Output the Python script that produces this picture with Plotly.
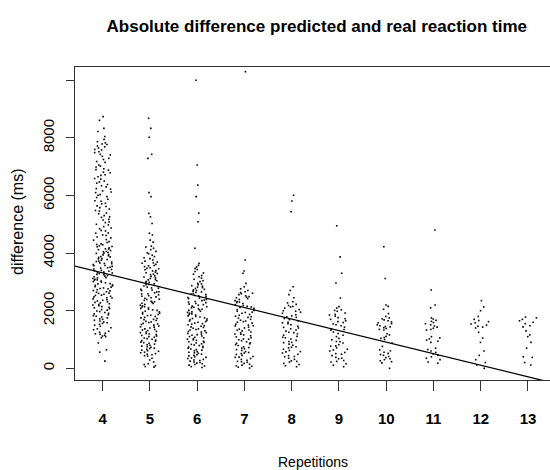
import plotly.graph_objects as go

title_text = "Absolute difference predicted and real reaction time"
x_label = "Repetitions"
y_label = "difference (ms)"

repetitions = [4, 5, 6, 7, 8, 9, 10, 11, 12, 13]
y_tick_vals = [0, 2000, 4000, 6000, 8000, 10000]
y_tick_text = ["0", "2000", "4000", "6000", "8000", ""]

# regression line (ms = intercept + slope * repetitions)
reg_intercept = 4922
reg_slope = -401.4

g4 = [8740, 8610, 8330, 8220, 8050,
      7950, 7870, 7830, 7790, 7770, 7720, 7690, 7650, 7600, 7580, 7520, 7490, 7430, 7410,
      7360, 7290, 7250, 7180, 7150, 7060, 7020, 6990, 6930, 6900, 6880, 6810, 6790, 6720, 6700,
      6650, 6590, 6570, 6500, 6470, 6430, 6380, 6340, 6300, 6240, 6220, 6160, 6120, 6100, 6030, 6010,
      5960, 5930, 5870, 5820, 5800, 5730, 5710, 5640, 5620, 5580, 5530, 5480, 5460, 5390, 5370,
      5300, 5260, 5240, 5170, 5150, 5080, 5060, 5000, 4980, 4920, 4870, 4850, 4790, 4770, 4700,
      4690, 4630, 4610, 4560, 4530, 4470, 4450, 4400, 4370, 4320,
      4300, 4290, 4250, 4230, 4220, 4180, 4150, 4140, 4120, 4090, 4060, 4050, 4020, 4000, 3990,
      3950, 3940, 3910, 3880, 3870, 3850, 3810, 3800, 3780, 3750, 3720, 3710, 3690, 3660, 3640,
      3630, 3600, 3570, 3560, 3540, 3510, 3490, 3480, 3450, 3430, 3400, 3390, 3370, 3340, 3320,
      3310, 3290, 3260, 3250, 3220, 3200, 3180, 3150, 3140, 3120, 3090, 3070, 3060, 3030, 3010,
      2990, 2970, 2940, 2930, 2900, 2880, 2860, 2830, 2820, 2790, 2770, 2760, 2730, 2700, 2690,
      2660, 2640, 2610, 2600, 2570, 2540, 2530, 2500, 2480, 2450, 2440, 2410, 2380, 2360, 2340,
      2310, 2290, 2270, 2240, 2210, 2200, 2170, 2140, 2120, 2100, 2070, 2040, 2020, 1990, 1970,
      1940, 1910, 1890, 1860, 1830, 1810, 1780, 1750, 1720, 1700, 1670, 1640, 1610, 1580, 1560,
      1530, 1500, 1460, 1410, 1370, 1340, 1290, 1250, 1220, 1200, 1180, 1150, 1120, 1100, 1060,
      880, 640, 560, 250]

g5 = [8680, 8330, 8020, 7430, 7290, 6100, 5960, 5380, 5260, 5030, 4690, 4630, 4450, 4380, 4240,
      4210, 4170, 4120, 4060, 4010, 3980, 3930, 3880, 3840, 3810, 3760, 3720,
      3690, 3660, 3650, 3610, 3570, 3560, 3530, 3490, 3470, 3460, 3420, 3390, 3380, 3340, 3320,
      3290, 3270, 3250, 3210, 3190, 3170, 3140, 3120, 3080, 3070, 3040, 3010, 2990, 2970, 2930,
      2910, 2900, 2860, 2840, 2820, 2790, 2780, 2740, 2720, 2700, 2660, 2650, 2620, 2590, 2580,
      2550, 2520, 2500, 2480, 2450, 2430, 2400, 2390, 2360, 2330, 2310, 2290, 2260, 2250, 2220,
      2190, 2170, 2140, 2130, 2100, 2080, 2050, 2030, 2010, 1980, 1960, 1940, 1910, 1890, 1870,
      1840, 1830, 1800, 1770, 1750, 1730, 1700, 1690, 1660, 1630, 1610, 1590, 1560, 1540, 1520,
      1500, 1470, 1440, 1430, 1400, 1370, 1350, 1330, 1310, 1280, 1260, 1240, 1210, 1190, 1170,
      1140, 1120, 1100, 1080, 1050, 1030, 1010, 980, 960, 940, 910, 890, 870, 840, 820,
      800, 770, 750, 730, 700, 690, 660, 630, 610, 590, 560, 540, 510, 490, 470, 440, 420,
      350, 290, 220, 160, 130, 90, 60, 40]

g6 = [10000, 7060, 6360, 5960, 5390, 5090, 4170, 3650,
      3580, 3520, 3470, 3430, 3360, 3310, 3270, 3220, 3180, 3130, 3090, 3040, 3010,
      2950, 2930, 2900, 2870, 2850, 2820, 2800, 2770, 2740, 2720, 2700, 2680, 2650, 2630, 2600,
      2580, 2560, 2530, 2510, 2490, 2460, 2440, 2420, 2390, 2370, 2350, 2320, 2300, 2280, 2250,
      2230, 2210, 2190, 2160, 2140, 2120, 2100, 2070, 2050, 2030, 2010, 1980, 1960, 1940, 1910,
      1890, 1870, 1850, 1820, 1800, 1780, 1750, 1730, 1710, 1690, 1660, 1640, 1620, 1600, 1570,
      1550, 1530, 1510, 1480, 1460, 1440, 1420, 1390, 1370, 1350, 1330, 1300, 1280, 1260, 1240,
      1210, 1190, 1170, 1150, 1120, 1100, 1080, 1060, 1030, 1010, 990, 970, 940, 920, 900,
      880, 850, 830, 810, 790, 760, 740, 720, 700, 670, 650, 630, 610, 580, 560, 540, 520,
      490, 470, 450, 430, 400, 380, 360, 340, 310, 290, 270, 250, 220, 200, 180, 160, 130,
      110, 80, 60, 30]

g7 = [10300, 3760, 3380, 3300, 2950, 2830, 2760,
      2700, 2660, 2630, 2590, 2560, 2520, 2490, 2450, 2420, 2390, 2350, 2320, 2280, 2250, 2210,
      2180, 2150, 2110, 2080, 2040, 2010, 1980, 1940, 1910, 1870, 1840, 1810, 1770, 1740, 1700,
      1670, 1640, 1600, 1570, 1530, 1500, 1470, 1430, 1400, 1360, 1330, 1300, 1260, 1230, 1190,
      1160, 1130, 1090, 1060, 1020, 990, 960, 920, 890, 850, 820, 790, 750, 720, 680, 650, 620,
      580, 550, 510, 480, 450, 410, 380, 340, 310, 280, 240, 210, 170, 140, 110, 70, 40, 10,
      2610, 2470, 2300, 2130, 1950, 1790, 1620, 1480, 1320, 1180, 1010, 870, 700, 530, 390, 230, 90]

g8 = [6010, 5810, 5440, 2830, 2700, 2560, 2450,
      2310, 2270, 2220, 2180, 2130, 2090, 2040, 2000, 1950, 1910, 1860, 1820, 1770, 1730, 1690,
      1640, 1600, 1550, 1510, 1460, 1420, 1370, 1330, 1290, 1240, 1200, 1150, 1110, 1060, 1020,
      970, 930, 890, 840, 800, 750, 710, 660, 620, 570, 530, 490, 440, 400, 350, 310, 260, 220,
      170, 130, 90, 55, 2150, 1980, 1790, 1580, 1400, 1250, 1080, 900, 730, 580, 410, 240]

g9 = [4950, 3870, 3300, 2960, 2440,
      2140, 2090, 2030, 1980, 1920, 1870, 1810, 1760, 1700, 1650, 1590, 1540, 1480, 1430, 1370,
      1320, 1260, 1210, 1150, 1100, 1040, 990, 930, 880, 820, 770, 710, 660, 600, 550, 490,
      440, 380, 330, 270, 220, 160, 110, 55, 2010, 1850, 1720, 1620, 1510, 1350, 920, 780,
      640, 510, 350, 240]

g10 = [4220, 3120, 2200, 2150, 2050,
       1750, 1720, 1680, 1650, 1610, 1580, 1550, 1510, 1480, 1450, 1410, 1380, 1350, 1330,
       1200, 1160, 1110, 1070, 1040, 1000,
       640, 610, 560, 520, 480, 450, 410, 370, 330, 300, 260, 230, 190, 0,
       1900, 1800, 1440, 880, 760]

g11 = [4800, 2720, 2200, 2100,
       1750, 1710, 1670, 1630, 1590, 1550, 1510, 1470, 1430, 1390, 1350, 1330,
       1100, 1060, 1020, 980, 940, 900,
       700, 650, 600, 550, 500, 450, 400, 350, 300, 220, 180]

g12 = [2350, 2130, 2000, 1700, 1660, 1620, 1580, 1540, 1500, 1460, 1430, 1400,
       1050, 900, 600, 450, 300, 200, 120, 0, 1800, 1250]

g13 = [1780, 1750, 1700, 1650, 1600, 1550, 1480, 1440, 1300, 1160, 1100,
       900, 700, 400, 380, 200, 115]

groups = [g4, g5, g6, g7, g8, g9, g10, g11, g12, g13]

x_min, x_max = 3.414, 13.466
y_min, y_max = -406, 10462

font_fam = "Liberation Sans, Arial, sans-serif"

fig = go.Figure()
for rep, vals in zip(repetitions, groups):
    fig.add_trace(go.Box(
        x0=rep, y=vals, width=0.7,
        boxpoints="all", jitter=0.6, pointpos=0,
        fillcolor="rgba(0,0,0,0)",
        line=dict(width=0, color="rgba(0,0,0,0)"),
        marker=dict(size=1.6, symbol="square", color="black", line=dict(width=0)),
        hoveron="points", showlegend=False,
    ))

line_x = [x_min, x_max]
line_y = [reg_intercept + reg_slope * v for v in line_x]
fig.add_trace(go.Scatter(x=line_x, y=line_y, mode="lines",
                         line=dict(color="black", width=1.3), showlegend=False))

fig.update_layout(
    width=550, height=470,
    margin=dict(l=75, r=0, t=67, b=90),
    plot_bgcolor="white", paper_bgcolor="white",
    showlegend=False,
    boxmode="overlay",
    title=dict(text=title_text, x=0.509, xref="paper", xanchor="center",
               y=1 - 26 / 470, yref="container", yanchor="middle",
               font=dict(family=font_fam, size=17, color="black", weight="bold")),
    xaxis=dict(range=[x_min, x_max], tickmode="array", tickvals=repetitions,
               ticktext=[str(r) for r in repetitions],
               ticks="outside", ticklen=10, tickwidth=1, tickcolor="#333",
               showline=True, mirror=True, linecolor="#333", linewidth=1,
               showgrid=False, zeroline=False, ticklabelstandoff=15,
               tickfont=dict(family=font_fam, size=15, color="black", weight="bold")),
    yaxis=dict(range=[y_min, y_max], tickmode="array", tickvals=y_tick_vals,
               ticktext=y_tick_text, tickangle=-90,
               ticks="outside", ticklen=8, tickwidth=1, tickcolor="#333",
               showline=True, mirror=False, linecolor="#333", linewidth=1,
               showgrid=False, zeroline=False, ticklabelstandoff=6,
               tickfont=dict(family=font_fam, size=15, color="black")),
    annotations=[
        dict(text=x_label, xref="paper", yref="paper", x=0.501, y=(380 - 462) / 313,
             xanchor="center", yanchor="middle", showarrow=False,
             font=dict(family=font_fam, size=14, color="black")),
        dict(text=y_label, xref="paper", yref="paper", x=(18 - 75) / 475, y=0.505,
             xanchor="center", yanchor="middle", showarrow=False, textangle=-90,
             font=dict(family=font_fam, size=16, color="black")),
    ],
)

fig.write_html("out.html")
